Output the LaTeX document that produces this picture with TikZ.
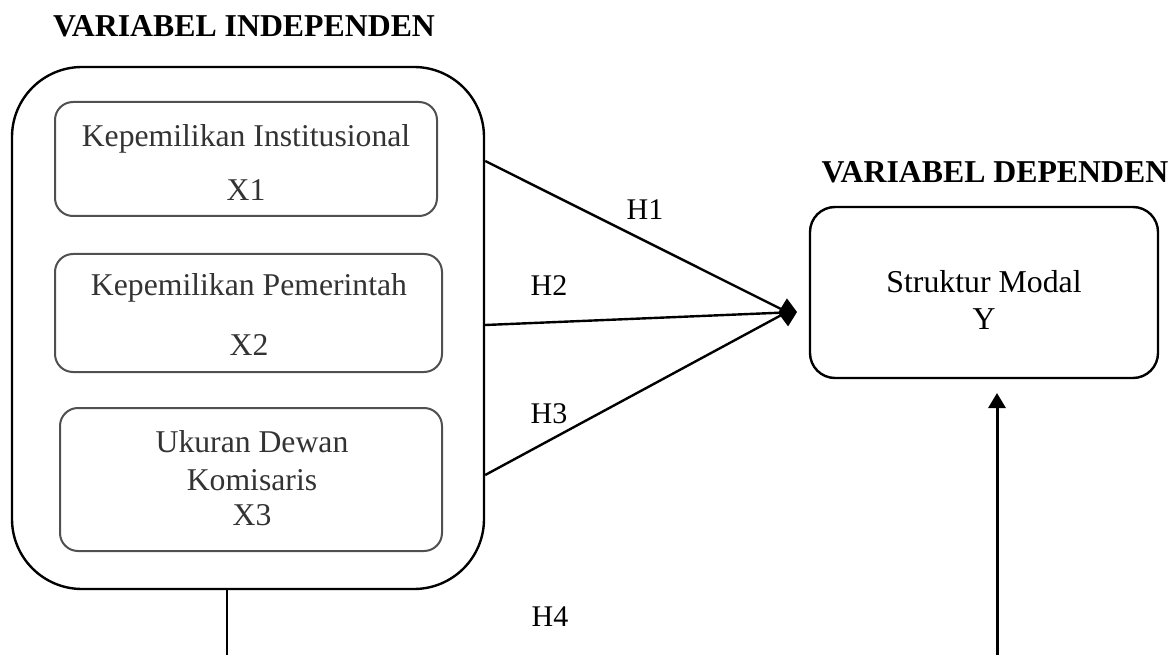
\documentclass[tikz,border=0pt]{standalone}
\usepackage{fontspec}
\setmainfont{Liberation Serif}
\usetikzlibrary{arrows.meta}
\definecolor{boxtext}{HTML}{333333}
\definecolor{boxline}{HTML}{505050}
\begin{document}
\begin{tikzpicture}[x=1pt,y=-1pt,
  title/.style={font=\fontsize{31.8}{36}\selectfont\bfseries, anchor=base, inner sep=0pt},
  lbl/.style={font=\fontsize{30}{36}\selectfont, anchor=base, inner sep=0pt},
  intext/.style={font=\fontsize{31.7}{36}\selectfont, anchor=base, inner sep=0pt, text=boxtext},
  outerbox/.style={draw, line width=2.4pt, rounded corners=70pt, inner sep=0pt},
  innerbox/.style={draw=boxline, line width=2pt, rounded corners=18pt, inner sep=0pt},
  depbox/.style={draw, line width=2.4pt, rounded corners=25pt, inner sep=0pt},
  link/.style={line width=2.4pt}]
\useasboundingbox (0,0) rectangle (1176,655);

% titles
\node[title] (tind) at (244,37) {VARIABEL INDEPENDEN};
\node[title] (tdep) at (995,183) {VARIABEL DEPENDEN};

% outer box
\node[outerbox, minimum width=472pt, minimum height=522pt] (indep) at (248,328) {};

% inner boxes
\node[innerbox, minimum width=382pt, minimum height=114pt] (bx1) at (246,159) {};
\node[innerbox, minimum width=387pt, minimum height=118pt] (bx2) at (248.5,313) {};
\node[innerbox, minimum width=382pt, minimum height=143pt] (bx3) at (251,479.5) {};

\node[intext] (t1a) at (246,147) {Kepemilikan Institusional};
\node[intext] (t1b) at (246,201) {X1};
\node[intext] (t2a) at (249,295) {Kepemilikan Pemerintah};
\node[intext] (t2b) at (249,355) {X2};
\node[intext] (t3a) at (252,452) {Ukuran Dewan};
\node[intext] (t3b) at (252,490) {Komisaris};
\node[intext] (t3c) at (252,525) {X3};

% dependent box
\node[depbox, minimum width=348pt, minimum height=171pt] (dep) at (984,292.5) {};
\node[lbl, font=\fontsize{31.8}{36}\selectfont] (ty1) at (984,292) {Struktur Modal};
\node[lbl, font=\fontsize{31.8}{36}\selectfont] (ty2) at (984,330) {Y};

% connectors
\coordinate (h1s) at (indep.east |- 0,161);
\coordinate (h2s) at (indep.east |- 0,325);
\coordinate (h3s) at (indep.east |- 0,475);
\coordinate (tip) at (797,312);
\coordinate (meet) at (787,312);
\draw[link] (h1s) -- (meet);
\draw[link] (h3s) -- (meet);
\draw[link, -{Diamond[length=19pt,width=28pt]}] (h2s) -- (tip);

\coordinate (l4) at (227,655);
\draw[link] (indep.south -| l4) -- (l4);
\coordinate (ubot) at (997,655);
\coordinate (utop) at (997,393);
\draw[link, line width=3pt, -{Triangle[length=15pt,width=17pt]}] (ubot) -- (utop);

% labels
\node[lbl] (H1) at (645,220) {H1};
\node[lbl] (H2) at (549,295) {H2};
\node[lbl] (H3) at (549,423) {H3};
\node[lbl] (H4) at (550,626) {H4};
\end{tikzpicture}
\end{document}
